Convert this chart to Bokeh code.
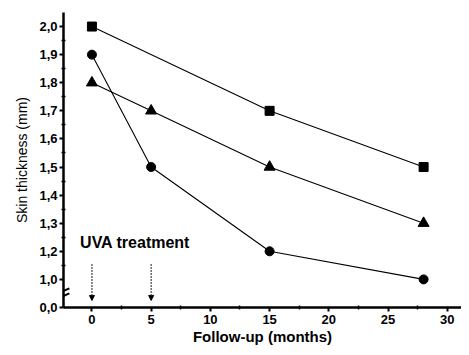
from bokeh.plotting import figure
from bokeh.models import (FixedTicker, CustomJSTickFormatter, Range1d, Arrow, NormalHead,
                          Label, CustomJSTransform, ColumnDataSource)
from bokeh.transform import transform
from bokeh.embed import file_html
from bokeh.resources import INLINE

# data
months_sq = [0, 15, 28]
thick_sq = [2.0, 1.7, 1.5]
months_tri = [0, 5, 15, 28]
thick_tri = [1.8, 1.7, 1.5, 1.3]
months_cir = [0, 5, 15, 28]
thick_cir = [1.9, 1.5, 1.2, 1.0]
treatment_months = [0, 5]
x_ticks = [0, 5, 10, 15, 20, 25, 30]
y_tick_values = [0.0, 1.0, 1.2, 1.3, 1.4, 1.5, 1.6, 1.7, 1.8, 1.9, 2.0]

FONT = "Liberation Sans"


# broken axis of the original: 0.0 | break | 1.0 .. 1.2 compressed | 1.2 .. 2.0 linear
def to_axis(v):
    if v >= 1.2:
        return v
    if v >= 1.0:
        return 1.1 + (v - 1.0) * 0.5
    return 1.0 + v * 0.1


JS_MAP = "v >= 1.2 ? v : (v >= 1.0 ? 1.1 + (v - 1.0) * 0.5 : 1.0 + v * 0.1)"
ybreak = CustomJSTransform(v_func="return xs.map(v => " + JS_MAP + ");",
                           func="const v = x; return " + JS_MAP + ";")

p = figure(width=461, height=347, output_backend="svg", toolbar_location=None,
           x_range=Range1d(-2.4, 31.2), y_range=Range1d(1.0, 2.05),
           min_border_left=63, min_border_right=0, min_border_top=12, min_border_bottom=38)
p.outline_line_color = None
p.grid.visible = False

for xs, ys, marker, size in ((months_sq, thick_sq, "square", 9),
                             (months_tri, thick_tri, "triangle", 11),
                             (months_cir, thick_cir, "circle", 9)):
    src = ColumnDataSource(dict(x=xs, y=ys))
    p.line("x", transform("y", ybreak), source=src, line_color="black", line_width=1.1)
    p.scatter("x", transform("y", ybreak), source=src, marker=marker, size=size, color="black")

for m in treatment_months:
    p.add_layout(Arrow(end=NormalHead(size=5, fill_color="black", line_color="black"),
                       x_start=m, y_start=1.155, x_end=m, y_end=1.025,
                       line_color="#444444", line_width=1.2, line_dash="2 1"))
p.add_layout(Label(x=-1.0, y=1.2, text="UVA treatment", text_font=FONT,
                   text_font_size="16px", text_font_style="bold", text_color="black"))

# axis break marks
p.segment(x0=[-2.9, -2.9], y0=[1.032, 1.05], x1=[-1.9, -1.9], y1=[1.05, 1.068],
          line_color="black", line_width=2)

xa = p.xaxis[0]
xa.ticker = FixedTicker(ticks=x_ticks, minor_ticks=[-2.5, 2.5, 7.5, 12.5, 17.5, 22.5, 27.5])
xa.axis_label = "Follow-up (months)"
ya = p.yaxis[0]
tick_pos = [round(to_axis(v), 4) for v in y_tick_values]
minor_pos = [round((a + b) / 2, 4) for a, b in zip(tick_pos[1:-1], tick_pos[2:])]
ya.ticker = FixedTicker(ticks=tick_pos, minor_ticks=minor_pos)
ya.formatter = CustomJSTickFormatter(
    args=dict(pos=tick_pos, vals=y_tick_values),
    code="""
let best = 0;
for (let i = 0; i < pos.length; i++) {
  if (Math.abs(pos[i] - tick) < Math.abs(pos[best] - tick)) best = i;
}
return vals[best].toFixed(1).replace('.', ',');
""")
ya.axis_label = "Skin thickness (mm)"
for ax in (xa, ya):
    ax.axis_line_width = 2.5
    ax.axis_line_color = "black"
    ax.major_tick_line_width = 2
    ax.minor_tick_line_width = 1.5
    ax.major_tick_out = 4
    ax.major_tick_in = 0
    ax.minor_tick_out = 2
    ax.minor_tick_in = 2
    ax.major_label_text_font = FONT
    ax.major_label_text_font_size = "13px"
    ax.major_label_text_font_style = "bold"
    ax.major_label_text_color = "black"
    ax.axis_label_text_font = FONT
    ax.axis_label_text_color = "black"
xa.axis_label_text_font_size = "15px"
xa.axis_label_text_font_style = "bold"
ya.axis_label_text_font_size = "14px"
ya.axis_label_text_font_style = "normal"
xa.major_label_standoff = 3
xa.axis_label_standoff = 1
ya.major_label_standoff = 2
ya.axis_label_standoff = 6

open("out.html", "w").write(file_html(p, INLINE))
